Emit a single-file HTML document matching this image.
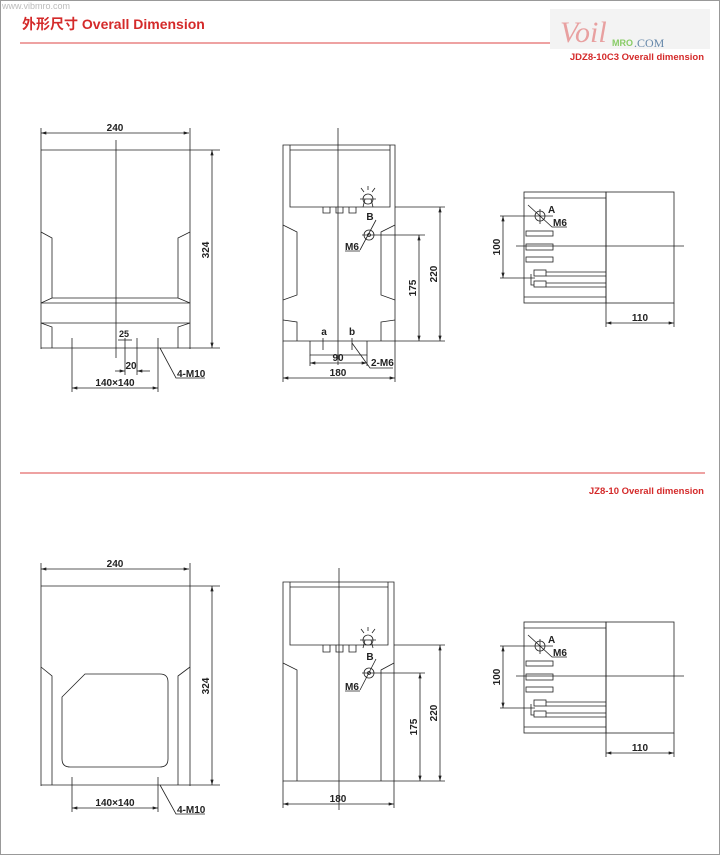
<!DOCTYPE html>
<html><head><meta charset="utf-8"><style>
html,body{margin:0;padding:0;background:#fff}
svg{display:block}
text{font-family:"Liberation Sans","Noto Sans CJK SC",sans-serif;font-weight:bold;font-size:10px;fill:#222}
.r{fill:#d42a2a}
</style></head><body>
<svg width="720" height="855" viewBox="0 0 720 855" xmlns="http://www.w3.org/2000/svg">
<defs>
<marker id="a" viewBox="0 0 10 6" refX="10" refY="3" markerWidth="8" markerHeight="4" orient="auto-start-reverse"><path d="M0,0L10,3L0,6z" fill="#222"/></marker>
</defs>
<rect x="0.5" y="0.5" width="719" height="854" fill="none" stroke="#999"/>
<text x="2" y="9" style="font-weight:normal;fill:#bbb;font-size:9px">www.vibmro.com</text>
<text x="22" y="29" class="r" style="font-size:14px">外形尺寸  Overall Dimension</text>
<line x1="20" y1="43" x2="700" y2="43" stroke="#d44" stroke-width="1"/>
<rect x="550" y="9" width="160" height="40" fill="#f3f3f3"/>
<text x="560" y="42" style="font-family:'Liberation Serif',serif;font-style:italic;font-weight:normal;font-size:30px;fill:#e8a0a0">Voil</text>
<text x="612" y="46" style="font-size:9px;fill:#8c6">MRO</text>
<text x="634" y="47" style="font-family:'Liberation Serif',serif;font-weight:normal;font-size:12px;fill:#6688aa">.COM</text>
<text x="704" y="60" text-anchor="end" class="r" style="font-size:9.5px">JDZ8-10C3 Overall dimension</text>
<line x1="20" y1="473" x2="705" y2="473" stroke="#d44"/>
<text x="704" y="494" text-anchor="end" class="r" style="font-size:9.5px">JZ8-10 Overall dimension</text>

<g fill="none" stroke="#222" stroke-width="0.8">
<!-- TOP LEFT -->
<line x1="41" y1="128" x2="41" y2="349"/><line x1="190" y1="128" x2="190" y2="349"/>
<line x1="41" y1="133" x2="189" y2="133" marker-start="url(#a)" marker-end="url(#a)"/>
<line x1="41" y1="150" x2="220" y2="150"/><line x1="41" y1="348" x2="220" y2="348"/>
<line x1="116" y1="140" x2="116" y2="358"/>
<path d="M41,232L52,238V298H178V238L190,232M41,303H190M41,323H190M41,323L52,327V348M190,323L178,327V348M52,298L41,303M178,298L190,303"/>
<line x1="72" y1="338" x2="72" y2="392"/><line x1="158" y1="338" x2="158" y2="392"/>
<line x1="72" y1="388" x2="158" y2="388" marker-start="url(#a)" marker-end="url(#a)"/>
<line x1="125" y1="338" x2="125" y2="375"/><line x1="137" y1="338" x2="137" y2="375"/>
<line x1="115" y1="371" x2="125" y2="371" marker-end="url(#a)"/><line x1="150" y1="371" x2="137" y2="371" marker-end="url(#a)"/>
<line x1="118" y1="340" x2="132" y2="340"/>
<line x1="212" y1="150" x2="212" y2="348" marker-start="url(#a)" marker-end="url(#a)"/>
<path d="M160,348L176,378H205"/>
<!-- TOP MIDDLE -->
<path d="M283,145H395V341H283Z M290,145V207H390V145 M290,150H390"/>
<path d="M323,207v6h7v-6 M336,207v6h7v-6 M349,207v6h7v-6"/>
<line x1="338" y1="128" x2="338" y2="365"/>
<path d="M283,225L297,232V295L283,300 M283,320L297,322V341 M395,225L381,232V295L395,300 M395,320L381,322V341"/>
<path d="M310,341V355H367V341"/>
<line x1="323" y1="338" x2="323" y2="350"/><line x1="352" y1="338" x2="352" y2="350"/>
<line x1="310" y1="355" x2="310" y2="366"/><line x1="367" y1="355" x2="367" y2="366"/>
<line x1="310" y1="363" x2="367" y2="363" marker-start="url(#a)" marker-end="url(#a)"/>
<path d="M352,343L370,368H393"/>
<line x1="283" y1="341" x2="283" y2="382"/><line x1="395" y1="341" x2="395" y2="382"/>
<line x1="283" y1="378" x2="395" y2="378" marker-start="url(#a)" marker-end="url(#a)"/>
<circle cx="368" cy="199" r="5"/><path d="M363,207L365,199M373,207L371,199M361,188L364,192M375,188L372,192M368,186v4M360,199h16"/>
<circle cx="369" cy="235" r="5"/><circle cx="369" cy="235" r="1.5"/>
<path d="M360,250L376,220M345,251H360M362,235H425"/>
<line x1="395" y1="207" x2="445" y2="207"/><line x1="395" y1="341" x2="445" y2="341"/>
<line x1="440" y1="207" x2="440" y2="341" marker-start="url(#a)" marker-end="url(#a)"/>
<line x1="419" y1="235" x2="419" y2="341" marker-start="url(#a)" marker-end="url(#a)"/>
<!-- TOP RIGHT -->
<g id="rv">
<rect x="524" y="192" width="82" height="111"/><rect x="606" y="192" width="68" height="111"/>
<path d="M524,198H606M524,297H606"/>
<circle cx="540" cy="216" r="5"/><path d="M540,209V224M528,205L552,227H567M500,216H553"/>
<rect x="526" y="231" width="27" height="5"/><rect x="526" y="244" width="27" height="6"/><rect x="526" y="257" width="27" height="5"/>
<line x1="516" y1="246" x2="684" y2="246"/>
<rect x="534" y="270" width="12" height="6"/><rect x="534" y="281" width="12" height="6"/>
<path d="M546,272H606M546,276H606M546,283H606M546,287H606M531,274V285H534M500,278H535"/>
<line x1="503" y1="216" x2="503" y2="278" marker-start="url(#a)" marker-end="url(#a)"/>
<line x1="606" y1="303" x2="606" y2="327"/><line x1="674" y1="303" x2="674" y2="327"/>
<line x1="606" y1="323" x2="674" y2="323" marker-start="url(#a)" marker-end="url(#a)"/>
</g>
<use href="#rv" transform="translate(0,430)"/>
<!-- BOTTOM LEFT -->
<line x1="41" y1="563" x2="41" y2="786"/><line x1="190" y1="563" x2="190" y2="786"/>
<line x1="41" y1="569" x2="189" y2="569" marker-start="url(#a)" marker-end="url(#a)"/>
<line x1="41" y1="586" x2="220" y2="586"/><line x1="41" y1="785" x2="220" y2="785"/>
<path d="M41,667L52,676V785M190,667L178,676V785"/>
<path d="M85,674H160Q168,674 168,682V759Q168,767 160,767H70Q62,767 62,759V697Z"/>
<line x1="72" y1="777" x2="72" y2="812"/><line x1="158" y1="777" x2="158" y2="812"/>
<line x1="72" y1="808" x2="158" y2="808" marker-start="url(#a)" marker-end="url(#a)"/>
<path d="M160,785L176,814H205"/>
<line x1="212" y1="586" x2="212" y2="785" marker-start="url(#a)" marker-end="url(#a)"/>
<!-- BOTTOM MIDDLE -->
<path d="M283,582H394V781H283Z M290,582V645H388V582 M290,587H388"/>
<path d="M323,645v7h7v-7 M336,645v7h7v-7 M349,645v7h7v-7"/>
<line x1="339" y1="568" x2="339" y2="810"/>
<path d="M283,663L297,670V781M394,663L381,670V781"/>
<line x1="283" y1="781" x2="283" y2="808"/><line x1="394" y1="781" x2="394" y2="808"/>
<line x1="283" y1="804" x2="394" y2="804" marker-start="url(#a)" marker-end="url(#a)"/>
<circle cx="368" cy="640" r="5"/><path d="M363,648L365,640M373,648L371,640M361,629L364,633M375,629L372,633M368,627v4M360,640h16"/>
<circle cx="369" cy="673" r="5"/><circle cx="369" cy="673" r="1.5"/>
<path d="M360,690L376,659M345,691H360M362,673H425"/>
<line x1="394" y1="645" x2="445" y2="645"/><line x1="394" y1="781" x2="445" y2="781"/>
<line x1="440" y1="645" x2="440" y2="781" marker-start="url(#a)" marker-end="url(#a)"/>
<line x1="420" y1="673" x2="420" y2="781" marker-start="url(#a)" marker-end="url(#a)"/>
</g>
<g>
<text x="115" y="131" text-anchor="middle">240</text>
<text x="124" y="337" text-anchor="middle" style="font-size:9px">25</text>
<text x="131" y="369" text-anchor="middle">20</text>
<text x="115" y="386" text-anchor="middle">140×140</text>
<text x="177" y="377">4-M10</text>
<text transform="translate(209,250) rotate(-90)" text-anchor="middle">324</text>
<text x="324" y="335" text-anchor="middle">a</text><text x="352" y="335" text-anchor="middle">b</text>
<text x="338" y="361" text-anchor="middle">90</text>
<text x="371" y="366">2-M6</text>
<text x="338" y="376" text-anchor="middle">180</text>
<text x="370" y="220" text-anchor="middle">B</text>
<text x="345" y="250">M6</text>
<text transform="translate(437,274) rotate(-90)" text-anchor="middle">220</text>
<text transform="translate(416,288) rotate(-90)" text-anchor="middle">175</text>
<text x="548" y="213">A</text><text x="553" y="226">M6</text>
<text transform="translate(500,247) rotate(-90)" text-anchor="middle">100</text>
<text x="640" y="321" text-anchor="middle">110</text>
<text x="548" y="643">A</text><text x="553" y="656">M6</text>
<text transform="translate(500,677) rotate(-90)" text-anchor="middle">100</text>
<text x="640" y="751" text-anchor="middle">110</text>
<text x="115" y="567" text-anchor="middle">240</text>
<text x="115" y="806" text-anchor="middle">140×140</text>
<text x="177" y="813">4-M10</text>
<text transform="translate(209,686) rotate(-90)" text-anchor="middle">324</text>
<text x="338" y="802" text-anchor="middle">180</text>
<text x="370" y="660" text-anchor="middle">B</text>
<text x="345" y="690">M6</text>
<text transform="translate(437,713) rotate(-90)" text-anchor="middle">220</text>
<text transform="translate(417,727) rotate(-90)" text-anchor="middle">175</text>
</g>
</svg>
</body></html>
